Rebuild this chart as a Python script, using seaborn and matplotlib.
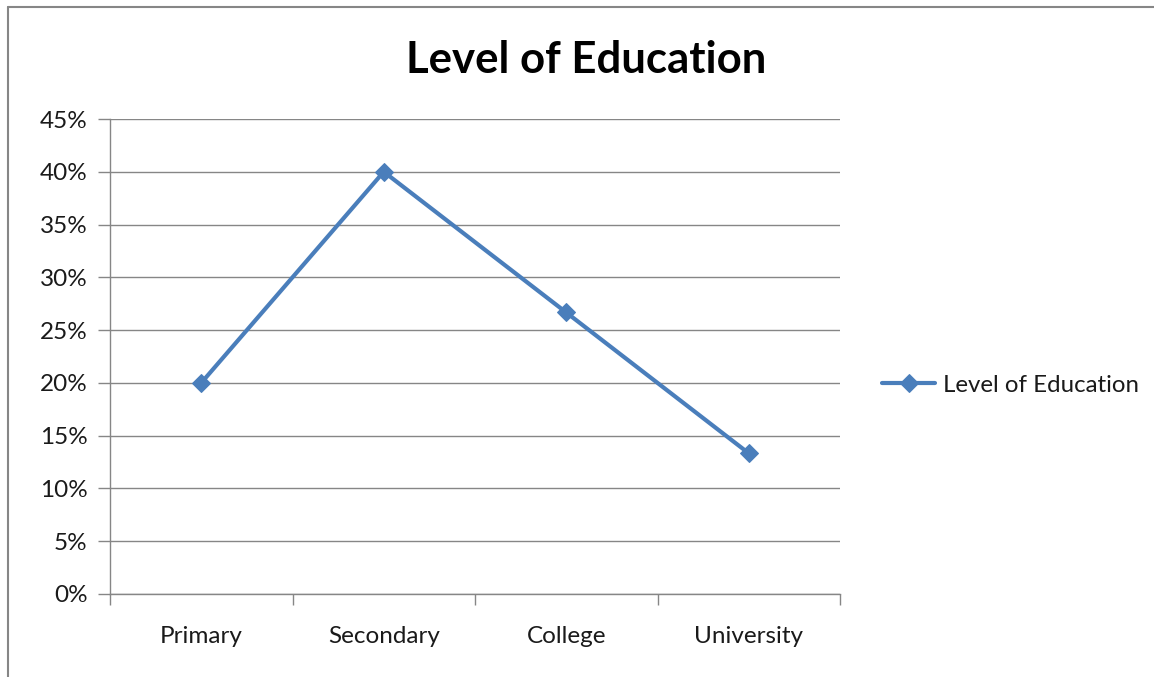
import matplotlib.pyplot as plt
import matplotlib.ticker as mtick
import seaborn as sns
import pandas as pd
import numpy as np

levels = ["Primary", "Secondary", "College", "University"]
shares = [0.20, 0.40, 0.2667, 0.1333]
series_name = "Level of Education"

df = pd.DataFrame({"level": levels, "share": shares})
df["pos"] = np.arange(len(levels))

sns.set_style("white")
plt.rcParams["font.family"] = ["Lato", "DejaVu Sans"]

fig = plt.figure(figsize=(11.54, 6.77), dpi=100)
ax = fig.add_axes([110 / 1154, 83 / 677, 730 / 1154, 475 / 677])

blue = "#4A7EBB"
grey = "#868686"
txt = "#1a1a1a"

sns.lineplot(data=df, x="pos", y="share", ax=ax, color=blue, linewidth=3,
             marker="D", markersize=9.5, markeredgecolor=blue,
             label=series_name)

# axes limits / ticks like an excel chart
ax.set_xlim(-0.5, len(levels) - 0.5)
ax.set_ylim(0, 0.45)
ax.yaxis.set_major_locator(mtick.MultipleLocator(0.05))
ax.yaxis.set_major_formatter(mtick.PercentFormatter(1.0, decimals=0))
ax.yaxis.grid(True, color=grey, linewidth=1)
ax.xaxis.grid(False)
ax.set_axisbelow(True)

ax.set_xticks(np.arange(-0.5, len(levels)), labels=[""] * (len(levels) + 1))
ax.set_xticks(df["pos"], labels=levels, minor=True)
ax.tick_params(axis="x", which="major", length=8, width=1, color=grey, direction="out", bottom=True)
ax.tick_params(axis="x", which="minor", length=0, pad=23, labelsize=17.5, labelcolor=txt)
ax.tick_params(axis="y", length=9, width=1, color=grey, direction="out", left=True,
               pad=7, labelsize=17.5, labelcolor=txt)
ax.set_xlabel("")
ax.set_ylabel("")

for side in ["top", "right"]:
    ax.spines[side].set_visible(False)
for side in ["left", "bottom"]:
    ax.spines[side].set_color(grey)
    ax.spines[side].set_linewidth(1)

leg = ax.legend(loc="center left", bbox_to_anchor=(1.045, 0.44), frameon=False,
                fontsize=17.3, handlelength=2.2, handletextpad=0.3, borderaxespad=0)
for t in leg.get_texts():
    t.set_color(txt)

fig.text(0.508, 1 - 60 / 677, "Level of Education", ha="center", va="center",
         fontsize=31.5, fontweight="bold", color="black")

# outer chart border (left and top visible)
fig.add_artist(plt.Line2D([8 / 1154, 8 / 1154], [0, 1 - 7 / 677], transform=fig.transFigure,
                          color=grey, linewidth=1.5))
fig.add_artist(plt.Line2D([8 / 1154, 1], [1 - 7 / 677, 1 - 7 / 677], transform=fig.transFigure,
                          color=grey, linewidth=1.5))

fig.savefig("out.png", dpi=100, facecolor="white")
